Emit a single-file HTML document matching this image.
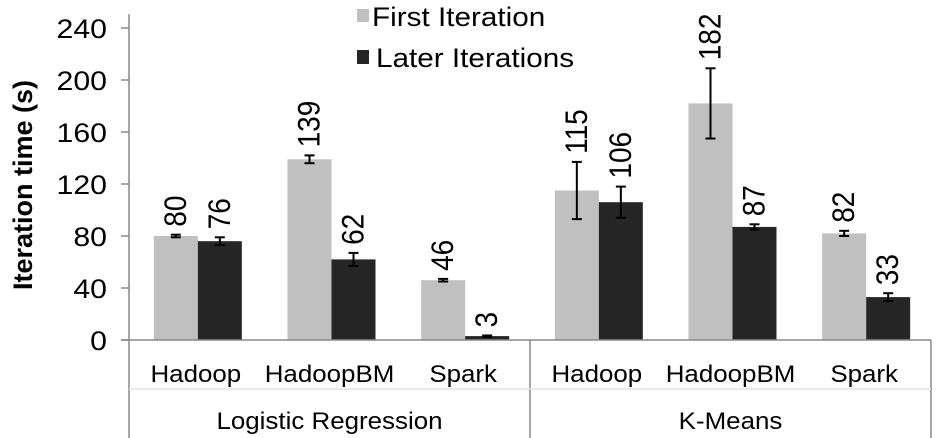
<!DOCTYPE html>
<html><head><meta charset="utf-8"><style>
body{margin:0;background:#fff;}
svg{display:block;font-family:"Liberation Sans",Arial,sans-serif;}
</style></head><body>
<svg id="chart" width="940" height="438" viewBox="0 0 940 438"></svg>
<script>
const categories=["Hadoop","HadoopBM","Spark","Hadoop","HadoopBM","Spark"];
const groups=["Logistic Regression","K-Means"];
const firstIter=[80,139,46,115,182,82];
const firstErr=[1,3,1,22,27,2];
const laterIter=[76,62,3,106,87,33];
const laterErr=[3,5,0.5,12,2,3];
const yTicks=[0,40,80,120,160,200,240];

const svg=document.getElementById('chart');
const NS='http://www.w3.org/2000/svg';
const x0=129,x1=931,yBase=340,yTop=28,yMax=240;
const catW=(x1-x0)/categories.length;
function y(v){return yBase-(v/yMax)*(yBase-yTop);}
function cx(i){return x0+(i+0.5)*catW+2;}
function mk(tag,attrs,parent){const e=document.createElementNS(NS,tag);for(const k in attrs)e.setAttribute(k,attrs[k]);(parent||svg).appendChild(e);return e;}
function txt(str,x,yy,size,anchor,sx,extra,parent){
  const g=mk('g',{transform:`translate(${x},${yy}) scale(${sx},1)`},parent);
  const t=mk('text',Object.assign({x:0,y:0,'text-anchor':anchor,'font-size':size,fill:'#000'},extra||{}),g);
  t.textContent=str;
  return t;
}

yTicks.forEach(t=>{
  const tx=txt(t,107,y(t)+10,27,'end',1.12);
  
  
  const tk=mk('line',{x1:121,x2:129,y1:y(t),y2:y(t),stroke:'#888','stroke-width':1.5});
  
  
});
const yt=txt('Iteration time (s)',32,185,27,'middle',1,{'font-weight':'bold',transform:'rotate(-90)'});



function bar(i,v,e,left,fill,name){
  const c=cx(i);const bx=left?c-44:c;const w=44;
  const r=mk('rect',{x:bx,y:y(v),width:w,height:yBase-y(v),fill:fill});
  
  
  const m=bx+w/2;
  const g=mk('g',{stroke:'#000','stroke-width':2});
  
  
  mk('line',{x1:m,x2:m,y1:y(v+e),y2:y(v-e)},g);
  mk('line',{x1:m-5,x2:m+5,y1:y(v+e),y2:y(v+e)},g);
  mk('line',{x1:m-5,x2:m+5,y1:y(v-e),y2:y(v-e)},g);
  const ty=y(v+e)-8;
  const t=txt(v,m+10,ty,28,'start',1.12,{transform:'rotate(-90)'});
  
  
}
categories.forEach((c,i)=>{
  bar(i,firstIter[i],firstErr[i],true,'#c0c0c0','bar-first-iteration');
  bar(i,laterIter[i],laterErr[i],false,'#262626','bar-later-iterations');
  const t=txt(c,cx(i)-2,382,24,'middle',1.08);
  
  
});
groups.forEach((g,j)=>{
  const gx=x0+(j*3+1.5)*catW;
  const t=txt(g,gx,429,24,'middle',1.08);
  
  
});
const ax=mk('g',{stroke:'#888','stroke-width':1.5});


mk('line',{x1:129,x2:129,y1:yTop-14,y2:438},ax);
mk('line',{x1:121,x2:x1,y1:yBase,y2:yBase},ax);
mk('line',{x1:x0+3*catW,x2:x0+3*catW,y1:yBase,y2:438},ax);
mk('line',{x1:x1,x2:x1,y1:yBase,y2:438},ax);
mk('line',{x1:129,x2:x1,y1:389,y2:389,stroke:'#e4e4e4'},ax);
const lg=mk('g',{});


mk('rect',{x:357,y:9,width:12,height:13,fill:'#c0c0c0'},lg);
txt('First Iteration',372,26,27,'start',1.1,{},lg);
mk('rect',{x:357,y:50,width:12,height:14,fill:'#262626'},lg);
txt('Later Iterations',376,67,27,'start',1.1,{},lg);
</script>
</body></html>
